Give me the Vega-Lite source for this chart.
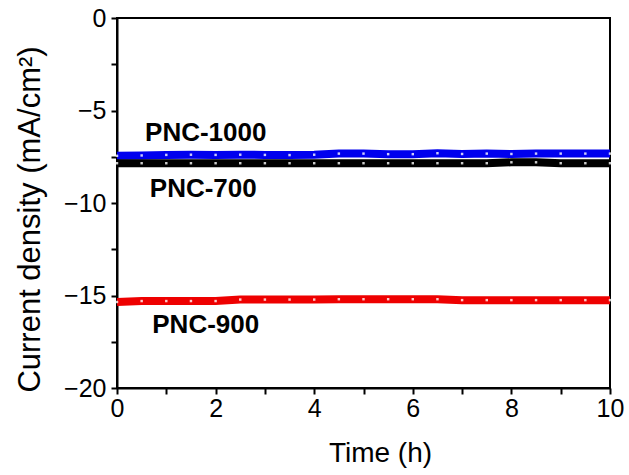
{
  "$schema": "https://vega.github.io/schema/vega-lite/v6.json",
  "width": 493,
  "height": 370,
  "autosize": {"type": "none"},
  "padding": {"left": 117, "top": 18, "right": 19, "bottom": 87},
  "background": "white",
  "config": {
    "view": {"stroke": "black", "strokeWidth": 2},
    "font": "Liberation Sans"
  },
  "datasets": {
    "series": [
      {"t": 0, "j": -7.45, "s": "PNC-1000"}, {"t": 0.5, "j": -7.43, "s": "PNC-1000"}, {"t": 1, "j": -7.4, "s": "PNC-1000"}, {"t": 1.5, "j": -7.39, "s": "PNC-1000"}, {"t": 2, "j": -7.4, "s": "PNC-1000"}, {"t": 2.5, "j": -7.39, "s": "PNC-1000"}, {"t": 3, "j": -7.4, "s": "PNC-1000"}, {"t": 3.5, "j": -7.41, "s": "PNC-1000"}, {"t": 4, "j": -7.39, "s": "PNC-1000"}, {"t": 4.5, "j": -7.33, "s": "PNC-1000"}, {"t": 5, "j": -7.33, "s": "PNC-1000"}, {"t": 5.5, "j": -7.36, "s": "PNC-1000"}, {"t": 6, "j": -7.36, "s": "PNC-1000"}, {"t": 6.5, "j": -7.31, "s": "PNC-1000"}, {"t": 7, "j": -7.35, "s": "PNC-1000"}, {"t": 7.5, "j": -7.33, "s": "PNC-1000"}, {"t": 8, "j": -7.35, "s": "PNC-1000"}, {"t": 8.5, "j": -7.33, "s": "PNC-1000"}, {"t": 9, "j": -7.33, "s": "PNC-1000"}, {"t": 9.5, "j": -7.33, "s": "PNC-1000"}, {"t": 10, "j": -7.33, "s": "PNC-1000"},
      {"t": 0, "j": -7.85, "s": "PNC-700"}, {"t": 0.5, "j": -7.85, "s": "PNC-700"}, {"t": 1, "j": -7.85, "s": "PNC-700"}, {"t": 1.5, "j": -7.85, "s": "PNC-700"}, {"t": 2, "j": -7.85, "s": "PNC-700"}, {"t": 2.5, "j": -7.85, "s": "PNC-700"}, {"t": 3, "j": -7.85, "s": "PNC-700"}, {"t": 3.5, "j": -7.85, "s": "PNC-700"}, {"t": 4, "j": -7.85, "s": "PNC-700"}, {"t": 4.5, "j": -7.85, "s": "PNC-700"}, {"t": 5, "j": -7.85, "s": "PNC-700"}, {"t": 5.5, "j": -7.85, "s": "PNC-700"}, {"t": 6, "j": -7.85, "s": "PNC-700"}, {"t": 6.5, "j": -7.85, "s": "PNC-700"}, {"t": 7, "j": -7.85, "s": "PNC-700"}, {"t": 7.5, "j": -7.85, "s": "PNC-700"}, {"t": 8, "j": -7.8, "s": "PNC-700"}, {"t": 8.5, "j": -7.8, "s": "PNC-700"}, {"t": 9, "j": -7.85, "s": "PNC-700"}, {"t": 9.5, "j": -7.85, "s": "PNC-700"}, {"t": 10, "j": -7.85, "s": "PNC-700"},
      {"t": 0, "j": -15.35, "s": "PNC-900"}, {"t": 0.5, "j": -15.3, "s": "PNC-900"}, {"t": 1, "j": -15.3, "s": "PNC-900"}, {"t": 1.5, "j": -15.3, "s": "PNC-900"}, {"t": 2, "j": -15.3, "s": "PNC-900"}, {"t": 2.5, "j": -15.22, "s": "PNC-900"}, {"t": 3, "j": -15.22, "s": "PNC-900"}, {"t": 3.5, "j": -15.22, "s": "PNC-900"}, {"t": 4, "j": -15.22, "s": "PNC-900"}, {"t": 4.5, "j": -15.2, "s": "PNC-900"}, {"t": 5, "j": -15.2, "s": "PNC-900"}, {"t": 5.5, "j": -15.2, "s": "PNC-900"}, {"t": 6, "j": -15.2, "s": "PNC-900"}, {"t": 6.5, "j": -15.2, "s": "PNC-900"}, {"t": 7, "j": -15.25, "s": "PNC-900"}, {"t": 7.5, "j": -15.25, "s": "PNC-900"}, {"t": 8, "j": -15.25, "s": "PNC-900"}, {"t": 8.5, "j": -15.25, "s": "PNC-900"}, {"t": 9, "j": -15.25, "s": "PNC-900"}, {"t": 9.5, "j": -15.25, "s": "PNC-900"}, {"t": 10, "j": -15.25, "s": "PNC-900"}
    ],
    "labels": [
      {"t": 1.8, "j": -6.2, "label": "PNC-1000"},
      {"t": 1.75, "j": -9.25, "label": "PNC-700"},
      {"t": 1.8, "j": -16.6, "label": "PNC-900"}
    ]
  },
  "encoding": {
    "x": {
      "field": "t", "type": "quantitative",
      "scale": {"domain": [0, 10], "nice": false, "zero": false},
      "axis": {
        "title": "Time (h)", "values": [0, 1, 2, 3, 4, 5, 6, 7, 8, 9, 10],
        "labelExpr": "datum.value % 2 == 0 ? datum.label : ''",
        "grid": false, "domainColor": "black", "domainWidth": 2, "tickColor": "black", "tickWidth": 2, "tickSize": 6,
        "labelFontSize": 25, "labelColor": "black", "labelPadding": 2, "labelFlush": false,
        "titleFontSize": 28, "titleFontWeight": "normal", "titleColor": "black",
        "titleX": 263, "titleY": 73, "titleBaseline": "alphabetic", "titleAlign": "center"
      }
    },
    "y": {
      "field": "j", "type": "quantitative",
      "scale": {"domain": [-20, 0], "nice": false, "zero": false},
      "axis": {
        "title": "Current density (mA/cm²)", "values": [-20, -17.5, -15, -12.5, -10, -7.5, -5, -2.5, 0],
        "labelExpr": "datum.value % 5 == 0 ? datum.label : ''",
        "grid": false, "domainColor": "black", "domainWidth": 2, "tickColor": "black", "tickWidth": 2, "tickSize": 6,
        "labelFontSize": 25, "labelColor": "black", "labelPadding": 5, "labelFlush": false,
        "titleFontSize": 31, "titleFontWeight": "normal", "titleColor": "black",
        "titleX": -87, "titleY": 201, "titleBaseline": "middle", "titleAlign": "center", "titleAngle": 270
      }
    }
  },
  "layer": [
    {
      "data": {"name": "series"},
      "mark": {"type": "line", "strokeWidth": 8},
      "encoding": {
        "detail": {"field": "s"},
        "color": {"field": "s", "type": "nominal", "scale": {"domain": ["PNC-1000", "PNC-700", "PNC-900"], "range": ["#0000ee", "#000000", "#ee0000"]}, "legend": null}
      }
    },
    {
      "data": {"name": "series"},
      "mark": {"type": "point", "shape": "square", "size": 6, "filled": true, "fill": "white", "opacity": 0.8},
      "encoding": {}
    },
    {
      "data": {"name": "labels"},
      "mark": {"type": "text", "fontSize": 26, "fontWeight": "bold", "color": "black"},
      "encoding": {"text": {"field": "label"}}
    }
  ]
}
